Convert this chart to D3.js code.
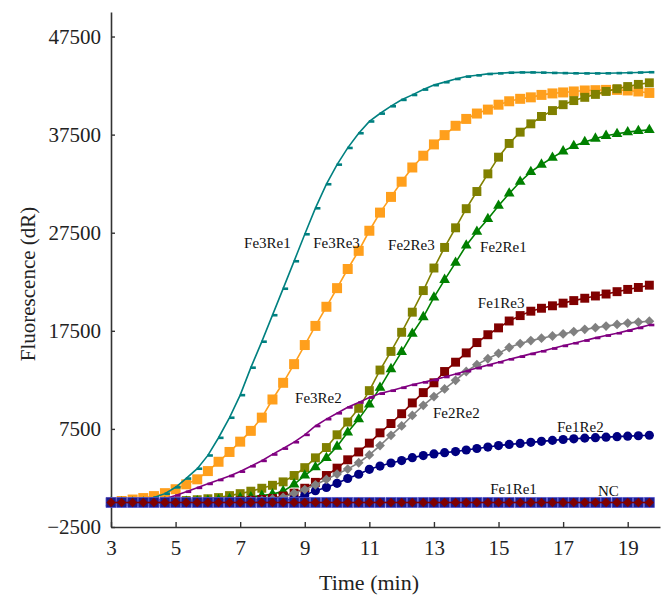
<!DOCTYPE html>
<html><head><meta charset="utf-8">
<script src="https://cdn.jsdelivr.net/npm/d3@7"></script>
<style>body{margin:0;background:#fff}</style>
</head><body>
<svg id="c" width="666" height="599"></svg>
<script>
// ---- data ----
const times = [3.00,3.33,3.67,4.00,4.33,4.67,5.00,5.33,5.67,6.00,6.33,6.67,7.00,7.33,7.67,8.00,8.33,8.67,9.00,9.33,9.67,10.00,10.33,10.67,11.00,11.33,11.67,12.00,12.33,12.67,13.00,13.33,13.67,14.00,14.33,14.67,15.00,15.33,15.67,16.00,16.33,16.67,17.00,17.33,17.67,18.00,18.33,18.67,19.00,19.33,19.67];

const fe3re1 = [0,50,120,250,500,900,1550,2450,3450,4800,6600,8650,10950,13750,16400,19100,21800,24600,27350,30000,32450,34450,36150,37650,38850,39650,40400,41050,41550,42100,42550,42850,43180,43420,43550,43690,43750,43820,43850,43850,43830,43800,43780,43760,43750,43750,43760,43780,43810,43840,43870];
const fe3re3 = [50,150,300,450,650,950,1350,1850,2360,3200,4150,5150,6200,7300,8650,10500,12200,14100,16050,18000,19950,21850,23800,25650,27700,29550,31150,32700,34150,35350,36500,37450,38400,39100,39650,40050,40550,40900,41150,41300,41550,41700,41800,41900,42000,42030,42060,42060,42000,41900,41750];
const fe3re2 = [0,0,20,50,150,380,720,1100,1500,1900,2300,2700,3150,3700,4250,4900,5500,6150,6900,7800,8500,9100,9700,10200,10700,11100,11400,11700,12000,12250,12500,12800,13100,13400,13700,14000,14300,14600,14870,15150,15420,15700,15970,16240,16510,16780,17020,17260,17520,17800,18100];
const fe2re3 = [0,0,10,20,40,80,130,200,280,380,500,700,900,1150,1450,1750,2100,2750,3550,4550,5600,6900,8200,9600,11400,13500,15400,17350,19400,21600,23900,26000,28000,29950,31700,33500,35200,36600,37750,38600,39350,39950,40550,40970,41300,41600,41900,42180,42400,42620,42780];
const fe2re1 = [0,0,0,0,10,20,40,80,130,190,250,350,450,550,700,850,1150,1850,2750,3600,4550,5700,7150,8500,10000,11700,13600,15350,17200,18900,20900,22700,24450,26200,27600,28900,30250,31500,32700,33700,34450,35150,35800,36350,36750,37100,37380,37580,37750,37880,37980];
const fe1re3 = [0,0,0,0,0,10,20,30,50,60,80,120,170,230,300,400,650,950,1450,2050,2750,3500,4350,5150,6050,7100,8050,9050,10150,11200,12200,13350,14300,15250,16300,17100,17800,18500,19050,19500,19800,20050,20320,20580,20820,21050,21250,21490,21720,21920,22150];
const fe2re2 = [0,0,0,0,0,0,0,0,10,20,40,70,110,160,220,360,530,950,1320,1800,2350,2900,3400,4050,4850,5800,6850,7800,8870,9900,10800,11580,12450,13350,14050,14650,15200,15800,16200,16500,16750,16970,17180,17420,17650,17820,17980,18150,18290,18390,18480];
const fe1re2 = [0,0,0,0,0,0,0,0,0,10,20,30,50,70,100,140,200,350,750,1200,1530,1950,2440,2880,3380,3710,4020,4270,4570,4780,4950,5080,5190,5350,5500,5650,5800,5920,6020,6130,6230,6330,6420,6490,6560,6610,6660,6710,6760,6800,6850];
const fe1re1 = [0,0,0,0,0,0,0,0,0,0,0,0,0,0,0,0,0,0,0,0,0,0,0,0,0,0,0,0,0,0,0,0,0,0,0,0,0,0,0,0,0,0,0,0,0,0,0,0,0,0,0];
const nc     = [0,0,0,0,0,0,0,0,0,0,0,0,0,0,0,0,0,0,0,0,0,0,0,0,0,0,0,0,0,0,0,0,0,0,0,0,0,0,0,0,0,0,0,0,0,0,0,0,0,0,0];

const xTicks = [3,5,7,9,11,13,15,17,19];
const yTicks = [-2500,7500,17500,27500,37500,47500];
const yTickLabels = ["\u22122500","7500","17500","27500","37500","47500"];

const labelNames = ["Fe3Re1","Fe3Re3","Fe2Re3","Fe2Re1","Fe1Re3","Fe3Re2","Fe2Re2","Fe1Re2","Fe1Re1","NC"];
const labelT = [7.12,9.26,11.58,14.43,14.36,8.70,12.97,16.81,14.74,18.08];
const labelV = [25940,25940,25740,25530,19820,10140,8610,7180,860,660];

// ---- styles (drawing order bottom->top) ----
const series = [
  {v: fe3re3, color:"#ff9f1c", marker:"square", size:100},
  {v: fe2re3, color:"#808000", marker:"square", size:80},
  {v: fe2re1, color:"#008000", marker:"triangle", size:50},
  {v: fe1re3, color:"#800000", marker:"square", size:80},
  {v: fe1re2, color:"#000080", marker:"circle", size:66},
  {v: fe2re2, color:"#808080", marker:"diamond", size:48},
  {v: fe3re2, color:"#800080", marker:"dash", size:0},
  {v: fe3re1, color:"#008080", marker:"dash", size:0},
  {v: nc,     color:"#1c1c88", marker:"square", size:100, stroke:"#5050d0"},
  {v: fe1re1, color:"#800000", marker:"diamond", size:44}
];

const svg = d3.select("#c");
const x = d3.scaleLinear().domain([3,20]).range([111,660]);
const y = d3.scaleLinear().domain([-2500,50000]).range([527,12]);
const FONT = "'Liberation Serif','Times New Roman',serif";

// axes
const gx = svg.append("g").attr("transform","translate(0,527)")
  .call(d3.axisBottom(x).tickValues(xTicks).tickFormat(d3.format("d"))
    .tickSizeInner(-5).tickSizeOuter(0).tickPadding(13));
const gy = svg.append("g").attr("transform","translate(111,0)")
  .call(d3.axisLeft(y).tickValues(yTicks).tickFormat((d,i)=>yTickLabels[i])
    .tickSizeInner(-4).tickSizeOuter(0).tickPadding(10));
[gx,gy].forEach(g=>{
  g.select(".domain").attr("stroke","#333").attr("stroke-width",1.6);
  g.selectAll(".tick line").attr("stroke","#333").attr("stroke-width",1.4);
  g.selectAll("text").attr("font-family",FONT).attr("font-size",21).attr("fill","#222");
});

svg.append("text").attr("x",369).attr("y",590).attr("text-anchor","middle")
  .attr("font-family",FONT).attr("font-size",22).attr("fill","#222").text("Time (min)");
svg.append("text").attr("transform","translate(35,284) rotate(-90)").attr("text-anchor","middle")
  .attr("font-family",FONT).attr("font-size",21).attr("fill","#222").text("Fluorescence (dR)");

// series
const line = d3.line().x((d,i)=>x(times[i])).y(d=>y(d));
const symType = {square:d3.symbolSquare, triangle:d3.symbolTriangle, circle:d3.symbolCircle, diamond:d3.symbolSquare};
series.forEach(s=>{
  const g = svg.append("g");
  g.append("path").attr("d", line(s.v)).attr("fill","none").attr("stroke", s.color).attr("stroke-width",1.6);
  const pts = g.selectAll(".m").data(s.v).enter();
  if (s.marker === "dash") {
    pts.append("rect").attr("x",(d,i)=>x(times[i])-0.5).attr("y",d=>y(d)-1.2)
      .attr("width",5.5).attr("height",2.6).attr("fill",s.color);
  } else {
    const sym = d3.symbol().type(symType[s.marker]).size(s.size);
    pts.append("path").attr("d", sym)
      .attr("transform",(d,i)=>`translate(${x(times[i])},${y(d)})${s.marker==="diamond"?" rotate(45)":""}`)
      .attr("fill", s.color).attr("stroke", s.stroke||"none").attr("stroke-width",0.8);
  }
});

// labels
svg.append("g").selectAll("text").data(labelNames).enter().append("text")
  .attr("x",(d,i)=>x(labelT[i])).attr("y",(d,i)=>y(labelV[i]))
  .attr("font-family",FONT).attr("font-size",15).attr("fill","#111").text(d=>d);
</script>
</body></html>
